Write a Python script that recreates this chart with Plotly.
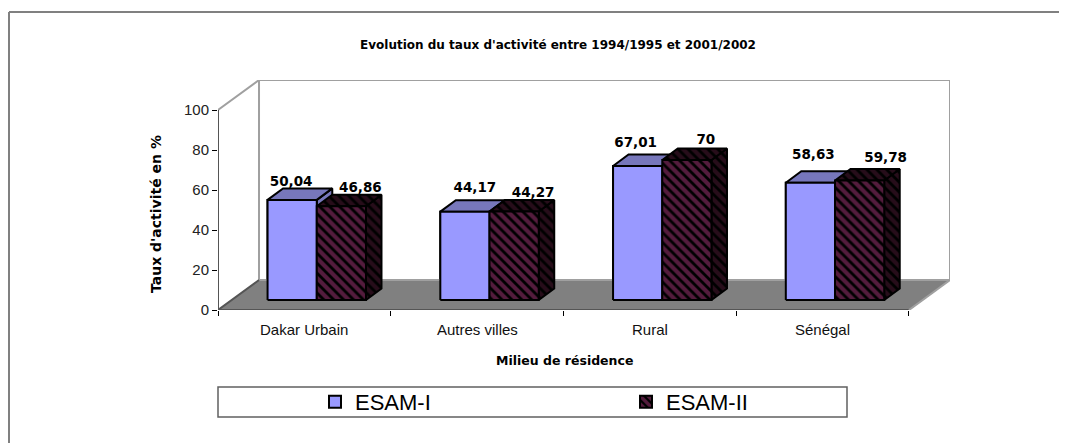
import plotly.graph_objects as go

categories = ["Dakar Urbain", "Autres villes", "Rural", "Sénégal"]
esam1 = [50.04, 44.17, 67.01, 58.63]
esam2 = [46.86, 44.27, 70, 59.78]
labels1 = ["50,04", "44,17", "67,01", "58,63"]
labels2 = ["46,86", "44,27", "70", "59,78"]
y_ticks = [0, 20, 40, 60, 80, 100]

PAGE_PAD = 8          # the page's own body margin
W, H = 1067, 443      # svg may run past the window; the window crops it
PLOT_L, PLOT_R, PLOT_T, PLOT_B = 218, 950, 80, 310   # page pixels
STEP = 172.7          # px per category
PXY = 2.0             # px per y unit
WALL_DX, WALL_DY = 41 / STEP, 30 / PXY
BASE = 5.0
DEPTH_DX, DEPTH_DY = 15.5 / STEP, 11.5 / PXY
BAR_W = 49.2 / STEP
PAIR_SHIFT = 12.4 / STEP

BLUE, BLUE_DK = "#9999FF", "#7777BB"
MAG, MAG_DK = "#A8387A", "#4D1A33"
WALL = "#A0A0A0"
FONT = "Liberation Sans"

# label offsets (px right, px above the front top of the bar)
shift1 = [-1, 10, -2, 3]
lift1 = [17, 23, 22, 27]
shift2 = [19, 19, 19, 26]
lift2 = [18, 18, 19, 22]


def PX(x):
    return (x - PLOT_L) / (PLOT_R - PLOT_L)


def PY(y):
    return (PLOT_B - y) / (PLOT_B - PLOT_T)


x0 = -0.5
x1 = len(categories) - 0.5
cats = list(range(len(categories)))
fig = go.Figure()


def poly(xs, ys, **kw):
    fig.add_trace(go.Scatter(x=xs, y=ys, mode="lines", showlegend=False,
                             hoverinfo="skip", cliponaxis=False, **kw))


def stripes(fg):
    return dict(shape="\\", fgcolor=fg, bgcolor="#000000", size=7, solidity=0.6)


# real bars (front faces): also feed the legend
for name, vals, off, col, pat in [
    ("ESAM-I", esam1, PAIR_SHIFT - BAR_W / 2, BLUE, None),
    ("ESAM-II", esam2, PAIR_SHIFT + BAR_W / 2, "#000000", stripes(MAG)),
]:
    marker = dict(color=col, line=dict(color="#000000", width=2))
    if pat:
        marker["pattern"] = pat
    fig.add_trace(go.Bar(name=name, x=[c + off for c in cats], y=vals,
                         base=[BASE] * len(vals), width=BAR_W, marker=marker,
                         hoverinfo="skip"))

# floor and walls
poly([x0, x0 + WALL_DX, x1 + WALL_DX, x1, x0], [0, WALL_DY, WALL_DY, 0, 0],
     fill="toself", fillcolor="#808080", line=dict(color="#808080", width=1))
poly([x0, x0 + WALL_DX, x1 + WALL_DX, x1 + WALL_DX],
     [100, 100 + WALL_DY, 100 + WALL_DY, WALL_DY], line=dict(color=WALL, width=2))
poly([x0 + WALL_DX, x0 + WALL_DX, x1 + WALL_DX],
     [100 + WALL_DY, WALL_DY, WALL_DY], line=dict(color=WALL, width=2))
poly([x0, x1], [0, 0], line=dict(color="#555555", width=2))
poly([x1, x1 + WALL_DX], [0, WALL_DY], line=dict(color=WALL, width=2))
poly([x0, x0, x0 + WALL_DX], [100, 0, WALL_DY], line=dict(color="#555555", width=2))

BK = dict(color="#000000", width=2)


def box(left, v, front_fill, dark_fill):
    r = left + BAR_W
    top = BASE + v
    kw = dict(line=BK, fill="toself")
    poly([r, r + DEPTH_DX, r + DEPTH_DX, r, r],
         [BASE, BASE + DEPTH_DY, top + DEPTH_DY, top, BASE], **kw, **dark_fill)
    poly([left, left + DEPTH_DX, r + DEPTH_DX, r, left],
         [top, top + DEPTH_DY, top + DEPTH_DY, top, top], **kw, **dark_fill)
    poly([left, r, r, left, left], [BASE, BASE, top, top, BASE], **kw, **front_fill)


for i in cats:
    box(i + PAIR_SHIFT - BAR_W, esam1[i],
        dict(fillcolor=BLUE), dict(fillcolor=BLUE_DK))
    box(i + PAIR_SHIFT, esam2[i],
        dict(fillcolor="#000000", fillpattern=stripes(MAG)),
        dict(fillcolor="#000000", fillpattern=stripes(MAG_DK)))

# value labels
lab_font = dict(family="DejaVu Sans", size=13.5, color="#000000", weight="bold")
for vals, labs, off, sh, li in [
    (esam1, labels1, PAIR_SHIFT - BAR_W / 2, shift1, lift1),
    (esam2, labels2, PAIR_SHIFT + BAR_W / 2, shift2, lift2),
]:
    fig.add_trace(go.Scatter(
        x=[c + off + s / STEP for c, s in zip(cats, sh)],
        y=[BASE + v + l / PXY for v, l in zip(vals, li)],
        mode="text", text=labs, textposition="middle center",
        textfont=lab_font, showlegend=False, hoverinfo="skip", cliponaxis=False))

anns = [dict(x=c, y=0, xref="x", yref="y", yshift=-19, text=t, showarrow=False,
             font=dict(family=FONT, size=15, color="#111111"))
        for c, t in zip(cats, categories)]
anns.append(dict(x=PX(564), y=PY(360), xref="paper", yref="paper",
                 xanchor="center", yanchor="middle",
                 text="Milieu de résidence", showarrow=False,
                 font=dict(family="DejaVu Sans", size=12.5, color="#000000", weight="bold")))
anns.append(dict(x=PX(156), y=PY(214), xref="paper", yref="paper", textangle=-90,
                 xanchor="center", yanchor="middle",
                 text="Taux d'activité en %", showarrow=False,
                 font=dict(family="DejaVu Sans", size=14, color="#000000", weight="bold")))

FRAME = dict(color="#808080", width=2)
shapes = [
    dict(type="line", xref="paper", yref="paper", x0=PX(9), x1=PX(9), y0=PY(451), y1=PY(12),
         line=FRAME),
    dict(type="line", xref="paper", yref="paper", x0=PX(9), x1=PX(1075), y0=PY(12), y1=PY(12),
         line=FRAME),
    dict(type="rect", xref="paper", yref="paper", x0=PX(218), x1=PX(847),
         y0=PY(417), y1=PY(387), line=dict(color="#606060", width=1.5),
         layer="below"),
]

fig.update_layout(
    width=W, height=H, autosize=False,
    margin=dict(l=PLOT_L - PAGE_PAD, r=W + PAGE_PAD - PLOT_R, t=PLOT_T - PAGE_PAD,
                b=H + PAGE_PAD - PLOT_B, pad=0),
    paper_bgcolor="#FFFFFF", plot_bgcolor="#FFFFFF",
    barmode="overlay",
    title=dict(text="Evolution du taux d'activité entre 1994/1995 et 2001/2002",
               x=(558 - PAGE_PAD) / W, y=1 - (45 - PAGE_PAD) / H,
               xanchor="center", yanchor="middle",
               font=dict(family="DejaVu Sans", size=12, color="#000000", weight="bold")),
    xaxis=dict(range=[x0, x1 + WALL_DX], tickvals=[x0 + i for i in range(5)],
               ticktext=[""] * 5, ticks="outside", ticklen=5, tickwidth=1,
               tickcolor="#000000", showgrid=False, zeroline=False, showline=False),
    yaxis=dict(range=[0, 100 + WALL_DY], tickvals=y_ticks, ticks="outside", ticklen=5,
               tickwidth=1, tickcolor="#000000", showgrid=False, zeroline=False,
               showline=False, tickfont=dict(family=FONT, size=15, color="#222222")),
    legend=dict(orientation="h", x=PX(315), xanchor="left", y=PY(402), yanchor="middle",
                entrywidth=266, entrywidthmode="pixels", bgcolor="rgba(0,0,0,0)",
                font=dict(family=FONT, size=22, color="#000000"), tracegroupgap=0),
    annotations=anns, shapes=shapes,
)

fig.write_html("out.html", default_width="1067px", default_height="443px")
